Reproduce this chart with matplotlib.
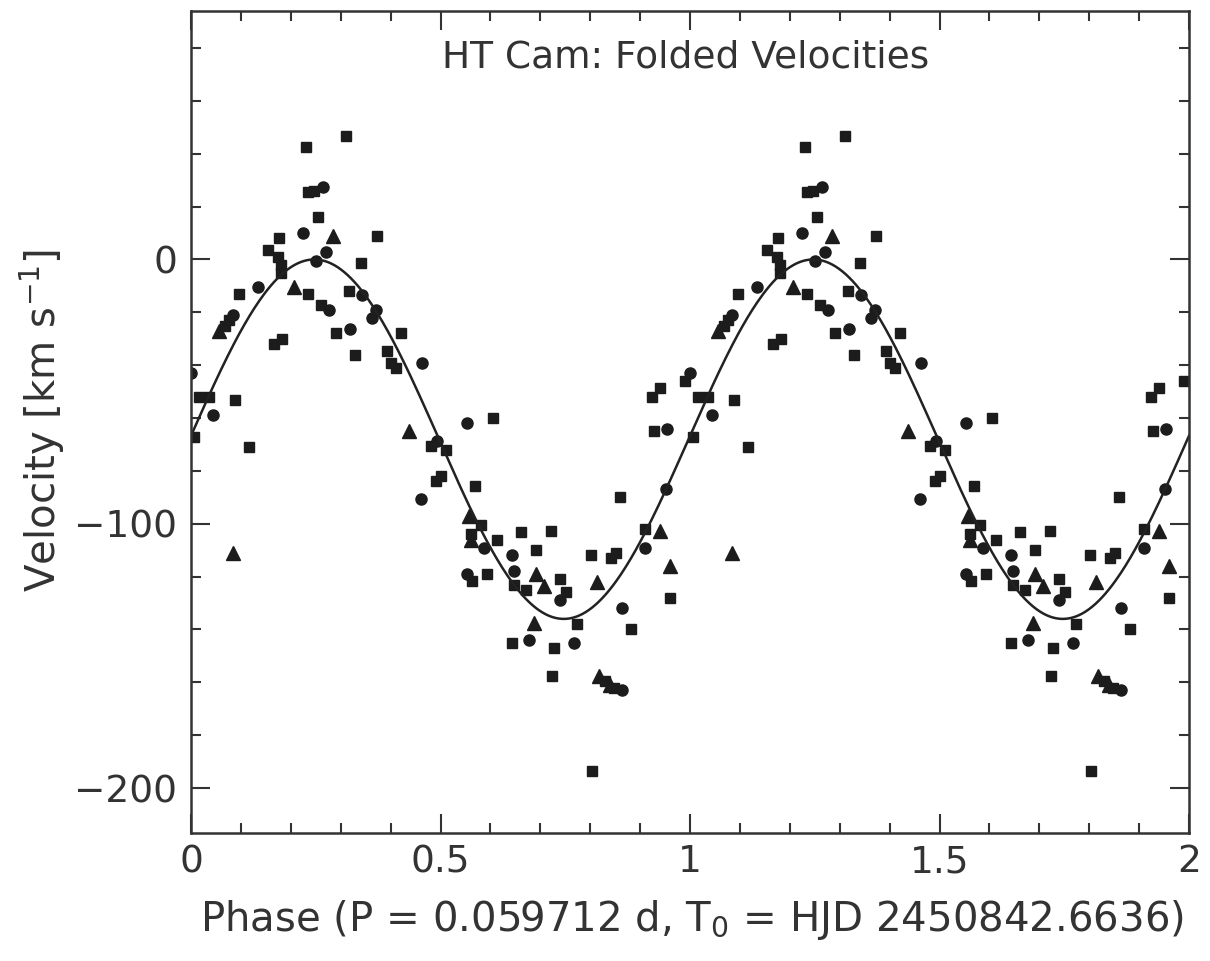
import numpy as np
import matplotlib
matplotlib.use("Agg")
import matplotlib.pyplot as plt
from matplotlib.ticker import MultipleLocator, FuncFormatter

# ---- data (phase in [0,1), velocity km/s); plotted twice (phase and phase+1)
sq_phase = [0.006, 0.016, 0.036, 0.088, 0.068, 0.076, 0.096, 0.117, 0.155, 0.175,
            0.181, 0.181, 0.177, 0.167, 0.183, 0.231, 0.235, 0.247, 0.255, 0.235,
            0.261, 0.291, 0.310, 0.316, 0.340, 0.328, 0.372, 0.392, 0.400, 0.410,
            0.420, 0.480, 0.511, 0.490, 0.500, 0.569, 0.605, 0.581, 0.561, 0.613,
            0.563, 0.593, 0.661, 0.722, 0.691, 0.647, 0.671, 0.740, 0.752, 0.802,
            0.842, 0.852, 0.860, 0.882, 0.774, 0.643, 0.728, 0.724, 0.830, 0.848,
            0.804, 0.923, 0.939, 0.989, 0.927, 0.909, 0.959]
sq_vel = [-67, -52, -52, -53, -25, -23, -13, -71, 3.4, 0.8,
          -2, -5, 8.3, -32, -30, 42.4, 25.4, 26, 16, -13,
          -17.4, -28, 46.6, -12, -1.5, -36, 9, -34.5, -39, -41,
          -28, -70.5, -72, -84, -82, -85.6, -60, -100.4, -104, -106,
          -121.6, -119, -103, -102.6, -110, -123, -125, -121, -125.7, -112,
          -113, -111, -90, -140, -138, -145, -147, -157.6, -159.5, -162,
          -193.6, -52, -48.5, -46, -65, -102, -128]

ci_phase = [0.000, 0.044, 0.084, 0.135, 0.225, 0.251, 0.265, 0.271, 0.277, 0.318,
            0.342, 0.370, 0.362, 0.462, 0.492, 0.460, 0.553, 0.587, 0.553, 0.643,
            0.647, 0.740, 0.864, 0.677, 0.768, 0.864, 0.953, 0.951, 0.909]
ci_vel = [-43, -59, -21, -10.6, 10, -0.4, 27.6, 2.7, -19.3, -26.5,
          -13.6, -19.3, -22, -39, -68.6, -90.5, -62, -109, -119, -112,
          -118, -129, -132, -144, -145, -163, -64, -87, -109]

tr_phase = [0.056, 0.084, 0.207, 0.285, 0.436, 0.557, 0.561, 0.691, 0.708, 0.687,
            0.814, 0.818, 0.840, 0.939, 0.959]
tr_vel = [-27, -111, -10.6, 9, -65, -97, -106, -119, -123.5, -137.5,
          -122, -157.6, -161, -102.6, -116]

# sinusoid fit parameters
gamma = -68.0
K_amp = 68.0
phase_zero = -0.003

title_text = "HT Cam: Folded Velocities"
xlabel_text = r"Phase (P = 0.059712 d, T$_0$ = HJD 2450842.6636)"
ylabel_text = r"Velocity [km s$^{-1}$]"

plt.rcParams["font.family"] = ["DejaVu Sans"]
plt.rcParams["mathtext.fontset"] = "dejavusans"

fig = plt.figure(figsize=(12.1, 9.61), dpi=100)
ax = fig.add_axes([191 / 1210, 1 - 833 / 961, 998 / 1210, 822 / 961])

mcol = "#1c1c1c"
for ph, v, mk, ms in [(sq_phase, sq_vel, "s", 7.6),
                      (ci_phase, ci_vel, "o", 8.0),
                      (tr_phase, tr_vel, "^", 10.0)]:
    ph = np.asarray(ph)
    v = np.asarray(v)
    ax.plot(np.concatenate([ph, ph + 1]), np.concatenate([v, v]), ls="none",
            marker=mk, ms=ms, color=mcol, mec=mcol, clip_on=True)

fx = np.linspace(0, 2, 600)
ax.plot(fx, gamma + K_amp * np.sin(2 * np.pi * (fx - phase_zero)), color="#222222", lw=1.8)

ax.set_xlim(0, 2)
ax.set_ylim(-217, 94)
ax.xaxis.set_major_locator(MultipleLocator(0.5))
ax.xaxis.set_minor_locator(MultipleLocator(0.1))
ax.yaxis.set_major_locator(MultipleLocator(100))
ax.yaxis.set_minor_locator(MultipleLocator(20))
ax.xaxis.set_major_formatter(FuncFormatter(lambda x, p: "%g" % x))
ax.yaxis.set_major_formatter(FuncFormatter(lambda y, p: ("%d" % y).replace("-", "\u2212")))
ax.tick_params(which="both", direction="in", top=True, right=True, width=1.5,
               color="#333333", labelcolor="#333333", labelsize=27)
ax.tick_params(which="major", length=14)
ax.tick_params(which="minor", length=7)
ax.tick_params(axis="x", pad=8)
ax.tick_params(axis="y", pad=10)
for s in ax.spines.values():
    s.set_linewidth(1.8)
    s.set_color("#333333")

ax.text(0.496, 0.944, title_text, transform=ax.transAxes, ha="center", va="center",
        fontsize=27, color="#333333")
fig.text(692 / 1210, 1 - 920 / 961, xlabel_text, ha="center", va="center",
         fontsize=29, color="#333333")
fig.text(42 / 1210, 1 - 420 / 961, ylabel_text, ha="center", va="center",
         rotation=90, fontsize=29, color="#333333")

fig.savefig("out.png", dpi=100)
